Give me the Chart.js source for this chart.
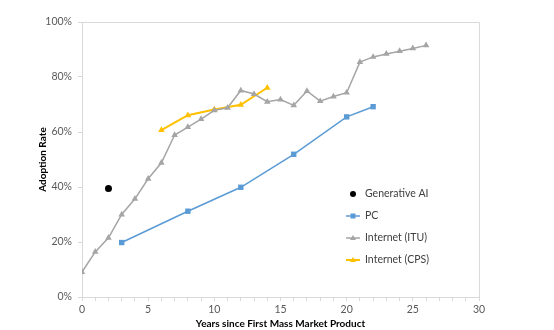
<!DOCTYPE html>
<html>
<head>
<meta charset="utf-8">
<script src="https://cdn.jsdelivr.net/npm/chart.js@4"></script>
<style>
  html, body { margin: 0; padding: 0; background: #fff; }
  #wrap { width: 554px; height: 330px; }
</style>
</head>
<body>
<div id="wrap"><canvas id="chartCanvas"></canvas></div>
<script>
// values (years since first mass market product, adoption %)
const genAiYears = [2];
const genAiValues = [39.5];

const pcYears = [3, 8, 12, 16, 20, 22];
const pcValues = [19.8, 31.2, 39.9, 51.9, 65.5, 69.2];

const ituYears = [0, 1, 2, 3, 4, 5, 6, 7, 8, 9, 10, 11, 12, 13, 14, 15, 16, 17, 18, 19, 20, 21, 22, 23, 24, 25, 26];
const ituValues = [9.1, 16.4, 21.5, 30.0, 35.7, 43.0, 48.8, 58.9, 61.8, 64.7, 67.9, 68.8, 75.1, 73.8, 71.0, 71.8, 69.7, 74.9, 71.2, 72.9, 74.3, 85.4, 87.3, 88.4, 89.4, 90.4, 91.5];

const cpsYears = [6, 8, 10, 12, 14];
const cpsValues = [60.7, 66.1, 68.2, 69.9, 76.1];

const seriesNames = ['Generative AI', 'PC', 'Internet (ITU)', 'Internet (CPS)'];
const yTicks = [0, 20, 40, 60, 80, 100];

const FONT = 'Lato, "Liberation Sans", sans-serif';

function toPoints(xs, ys) {
  return xs.map((x, i) => ({ x: x, y: ys[i] }));
}

// light frame round the plot area (top and right edges of the reference)
const frame = {
  id: 'frame',
  beforeDatasetsDraw(chart) {
    const { ctx, chartArea: a } = chart;
    ctx.save();
    ctx.strokeStyle = '#d9d9d9';
    ctx.lineWidth = 1;
    ctx.beginPath();
    ctx.moveTo(a.left, a.top + 0.5);
    ctx.lineTo(a.right + 0.5, a.top + 0.5);
    ctx.lineTo(a.right + 0.5, a.bottom);
    ctx.stroke();
    ctx.restore();
  }
};

// legend drawn inside the plot area, stacked, like the original
const insideLegend = {
  id: 'insideLegend',
  afterDraw(chart) {
    const { ctx, chartArea: a } = chart;
    const x0 = a.right - 126;
    const y0 = a.top + 172;
    const gap = 22;
    ctx.save();
    ctx.font = '10.5px ' + FONT;
    ctx.textBaseline = 'middle';
    chart.data.datasets.forEach((ds, i) => {
      const y = y0 + i * gap;
      if (ds.showLine !== false) {
        ctx.strokeStyle = ds.borderColor;
        ctx.lineWidth = ds.borderWidth;
        ctx.beginPath();
        ctx.moveTo(x0 - 7, y);
        ctx.lineTo(x0 + 7, y);
        ctx.stroke();
      }
      ctx.fillStyle = ds.pointBackgroundColor;
      ctx.beginPath();
      if (ds.pointStyle === 'rect') {
        ctx.rect(x0 - 2.5, y - 2.5, 5, 5);
      } else if (ds.pointStyle === 'triangle') {
        ctx.moveTo(x0, y - 3);
        ctx.lineTo(x0 + 3, y + 2);
        ctx.lineTo(x0 - 3, y + 2);
        ctx.closePath();
      } else {
        ctx.arc(x0, y, 3, 0, Math.PI * 2);
      }
      ctx.fill();
      ctx.fillStyle = '#404040';
      ctx.fillText(ds.label, x0 + 12, y);
    });
    ctx.restore();
  }
};

const ctx = document.getElementById('chartCanvas').getContext('2d');

new Chart(ctx, {
  type: 'line',
  data: {
    datasets: [{
      label: seriesNames[0],
      data: toPoints(genAiYears, genAiValues),
      showLine: false,
      borderColor: '#000000',
      backgroundColor: '#000000',
      pointBackgroundColor: '#000000',
      pointBorderWidth: 0,
      pointStyle: 'circle',
      pointRadius: 3.5,
      borderWidth: 0
    }, {
      label: seriesNames[1],
      data: toPoints(pcYears, pcValues),
      borderColor: '#5b9bd5',
      backgroundColor: '#5b9bd5',
      pointBackgroundColor: '#5b9bd5',
      pointBorderWidth: 0,
      pointStyle: 'rect',
      pointRadius: 3.8,
      borderWidth: 1.5
    }, {
      label: seriesNames[2],
      data: toPoints(ituYears, ituValues),
      borderColor: '#a5a5a5',
      backgroundColor: '#a5a5a5',
      pointBackgroundColor: '#a5a5a5',
      pointBorderWidth: 0,
      pointStyle: 'triangle',
      pointRadius: 3.8,
      borderWidth: 1.5
    }, {
      label: seriesNames[3],
      data: toPoints(cpsYears, cpsValues),
      borderColor: '#ffc000',
      backgroundColor: '#ffc000',
      pointBackgroundColor: '#ffc000',
      pointBorderWidth: 0,
      pointStyle: 'triangle',
      pointRadius: 3.8,
      borderWidth: 2
    }]
  },
  options: {
    responsive: true,
    maintainAspectRatio: false,
    animation: false,
    layout: { padding: { top: 22, right: 75, bottom: 0, left: 0 } },
    plugins: {
      legend: { display: false },
      tooltip: { enabled: false }
    },
    scales: {
      x: {
        type: 'linear',
        min: 0,
        max: 30,
        grid: { drawOnChartArea: false, tickLength: 4, color: '#d9d9d9' },
        border: { color: '#d9d9d9' },
        ticks: {
          stepSize: 1,
          autoSkip: false,
          maxRotation: 0,
          padding: 2,
          color: '#595959',
          font: { family: FONT, size: 10.5 },
          callback: v => (v % 5 === 0 ? v : '')
        },
        title: {
          display: true,
          text: 'Years since First Mass Market Product',
          color: '#000000',
          font: { family: FONT, size: 10, weight: 'bold' },
          padding: { top: 0, bottom: 0 }
        },
        afterFit: s => { s.height = 33; }
      },
      y: {
        min: 0,
        max: 100,
        afterBuildTicks: s => { s.ticks = yTicks.map(v => ({ value: v })); },
        grid: { drawOnChartArea: false, tickLength: 4, color: '#d9d9d9' },
        border: { color: '#d9d9d9' },
        ticks: {
          padding: 6,
          color: '#595959',
          font: { family: FONT, size: 10.5 },
          callback: v => v + '%'
        },
        title: {
          display: true,
          text: 'Adoption Rate',
          color: '#000000',
          font: { family: FONT, size: 10, weight: 'bold' },
          padding: { top: 37, bottom: 0 }
        },
        afterFit: s => { s.width = 82; }
      }
    }
  },
  plugins: [frame, insideLegend]
});
</script>
</body>
</html>
